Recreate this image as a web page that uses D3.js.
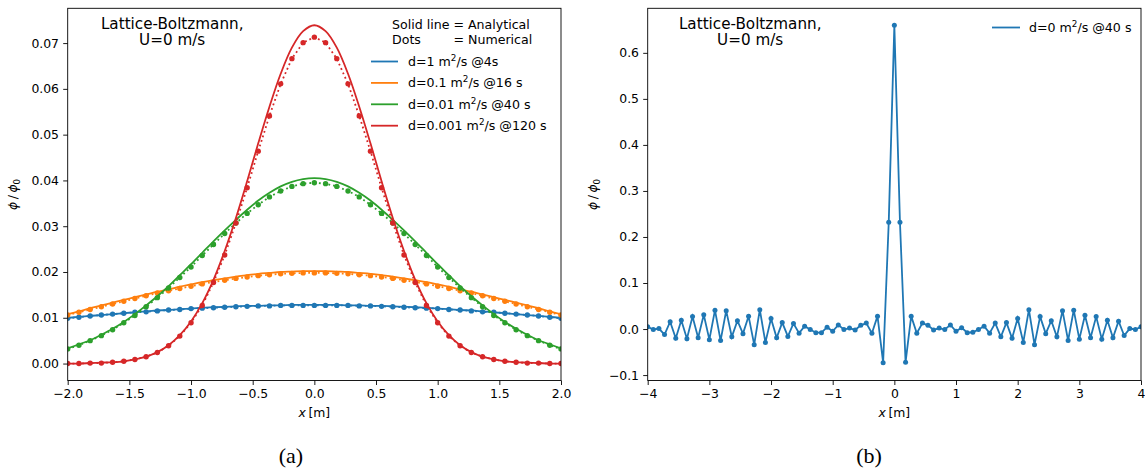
<!DOCTYPE html>
<html><head><meta charset="utf-8">
<script src="https://cdn.jsdelivr.net/npm/d3@7"></script>
<style>
body{margin:0;background:#fff}
svg{display:block}
text{font-family:"DejaVu Sans",sans-serif;fill:#000}
</style>
</head><body>
<svg id="c" width="1145" height="470"></svg>
<script>
// ---------- data: panel (a) ----------
const xLeft = [-2.000,-1.909,-1.818,-1.727,-1.636,-1.545,-1.455,-1.364,-1.273,-1.182,-1.091,-1.000,-0.909,-0.818,-0.727,-0.636,-0.545,-0.455,-0.364,-0.273,-0.182,-0.091,0,
  0.091,0.182,0.273,0.364,0.455,0.545,0.636,0.727,0.818,0.909,1.000,1.091,1.182,1.273,1.364,1.455,1.545,1.636,1.727,1.818,1.909,2.000];
const blueLine = [0.0100,0.0102,0.0104,0.0106,0.0108,0.0110,0.0112,0.0114,0.0116,0.0117,0.0119,0.0120,0.0122,0.0123,0.0124,0.0125,0.0126,0.0126,0.0127,0.0127,0.0128,0.0128,
  0.0128,
  0.0128,0.0128,0.0127,0.0127,0.0126,0.0126,0.0125,0.0124,0.0123,0.0122,0.0120,0.0119,0.0117,0.0116,0.0114,0.0112,0.0110,0.0108,0.0106,0.0104,0.0102,0.0100];
const blueDots = [0.0099,0.0101,0.0104,0.0106,0.0108,0.0110,0.0112,0.0113,0.0115,0.0117,0.0118,0.0120,0.0121,0.0122,0.0123,0.0124,0.0125,0.0126,0.0126,0.0127,0.0127,0.0127,
  0.0127,
  0.0127,0.0127,0.0127,0.0126,0.0126,0.0125,0.0124,0.0123,0.0122,0.0121,0.0120,0.0118,0.0117,0.0115,0.0113,0.0112,0.0110,0.0108,0.0106,0.0104,0.0101,0.0099];
const orangeLine = [0.0108,0.0114,0.0121,0.0127,0.0133,0.0139,0.0145,0.0151,0.0157,0.0162,0.0168,0.0173,0.0178,0.0182,0.0186,0.0190,0.0193,0.0196,0.0198,0.0200,0.0201,0.0202,
  0.0202,
  0.0202,0.0201,0.0200,0.0198,0.0196,0.0193,0.0190,0.0186,0.0182,0.0178,0.0173,0.0168,0.0162,0.0157,0.0151,0.0145,0.0139,0.0133,0.0127,0.0121,0.0114,0.0108];
const orangeDots = [0.0106,0.0112,0.0118,0.0124,0.0130,0.0136,0.0142,0.0148,0.0154,0.0159,0.0164,0.0169,0.0174,0.0178,0.0182,0.0186,0.0189,0.0192,0.0194,0.0196,0.0197,0.0198,
  0.0198,
  0.0198,0.0197,0.0196,0.0194,0.0192,0.0189,0.0186,0.0182,0.0178,0.0174,0.0169,0.0164,0.0159,0.0154,0.0148,0.0142,0.0136,0.0130,0.0124,0.0118,0.0112,0.0106];
const greenLine = [0.0033,0.0042,0.0051,0.0063,0.0076,0.0091,0.0108,0.0127,0.0147,0.0169,0.0193,0.0217,0.0242,0.0267,0.0291,0.0314,0.0336,0.0356,0.0373,0.0387,0.0397,0.0403,
  0.0405,
  0.0403,0.0397,0.0387,0.0373,0.0356,0.0336,0.0314,0.0291,0.0267,0.0242,0.0217,0.0193,0.0169,0.0147,0.0127,0.0108,0.0091,0.0076,0.0063,0.0051,0.0042,0.0033];
const greenDots = [0.0032,0.0040,0.0050,0.0061,0.0074,0.0089,0.0105,0.0124,0.0144,0.0165,0.0188,0.0211,0.0236,0.0260,0.0284,0.0307,0.0328,0.0347,0.0364,0.0377,0.0387,0.0393,
  0.0395,
  0.0393,0.0387,0.0377,0.0364,0.0347,0.0328,0.0307,0.0284,0.0260,0.0236,0.0211,0.0188,0.0165,0.0144,0.0124,0.0105,0.0089,0.0074,0.0061,0.0050,0.0040,0.0032];
const redLine = [0.0000,0.0000,0.0001,0.0002,0.0003,0.0005,0.0009,0.0015,0.0025,0.0040,0.0062,0.0092,0.0132,0.0183,0.0246,0.0318,0.0398,0.0481,0.0561,0.0633,0.0690,0.0726,
  0.0739,
  0.0726,0.0690,0.0633,0.0561,0.0481,0.0398,0.0318,0.0246,0.0183,0.0132,0.0092,0.0062,0.0040,0.0025,0.0015,0.0009,0.0005,0.0003,0.0002,0.0001,0.0000,0.0000];
const redDots = [0.0000,0.0000,0.0001,0.0001,0.0003,0.0005,0.0009,0.0015,0.0024,0.0039,0.0060,0.0089,0.0127,0.0177,0.0237,0.0307,0.0384,0.0464,0.0541,0.0611,0.0666,0.0701,
  0.0713,
  0.0701,0.0666,0.0611,0.0541,0.0464,0.0384,0.0307,0.0237,0.0177,0.0127,0.0089,0.0060,0.0039,0.0024,0.0015,0.0009,0.0005,0.0003,0.0001,0.0001,0.0000,0.0000];
const leftNames = ["d=1 m", "d=0.1 m", "d=0.01 m", "d=0.001 m"];
const leftTails = ["/s @4s", "/s @16 s", "/s @40 s", "/s @120 s"];
const leftColors = ["#1f77b4", "#ff7f0e", "#2ca02c", "#d62728"];
const leftXTicks = [-2.0,-1.5,-1.0,-0.5,0.0,0.5,1.0,1.5,2.0];
const leftYTicks = [0.00,0.01,0.02,0.03,0.04,0.05,0.06,0.07];

// ---------- data: panel (b) ----------
const xRight = [-4.000,-3.909,-3.818,-3.727,-3.636,-3.545,-3.455,-3.364,-3.273,-3.182,-3.091,-3.000,-2.909,-2.818,-2.727,-2.636,-2.545,-2.455,-2.364,-2.273,-2.182,-2.091,
  -2.000,-1.909,-1.818,-1.727,-1.636,-1.545,-1.455,-1.364,-1.273,-1.182,-1.091,-1.000,-0.909,-0.818,-0.727,-0.636,-0.545,-0.455,-0.364,-0.273,-0.182,-0.091,
  0,
  0.091,0.182,0.273,0.364,0.455,0.545,0.636,0.727,0.818,0.909,1.000,1.091,1.182,1.273,1.364,1.455,1.545,1.636,1.727,1.818,1.909,2.000,
  2.091,2.182,2.273,2.364,2.455,2.545,2.636,2.727,2.818,2.909,3.000,3.091,3.182,3.273,3.364,3.455,3.545,3.636,3.727,3.818,3.909,4.000];
const rightVals = [0.005,-0.001,0.001,-0.012,0.016,-0.020,0.019,-0.021,0.027,-0.019,0.031,-0.023,0.041,-0.025,0.040,-0.017,0.018,-0.010,0.028,-0.034,0.042,-0.029,
  0.023,-0.019,0.014,-0.016,0.012,-0.009,0.006,-0.001,-0.008,-0.008,0.004,-0.005,0.009,-0.001,0.002,-0.002,0.008,0.013,-0.009,0.028,-0.073,0.232,
  0.660,
  0.232,-0.072,0.028,-0.009,0.013,0.008,-0.002,0.002,-0.001,0.009,-0.005,0.003,-0.008,-0.007,-0.001,0.006,-0.009,0.013,-0.017,0.014,-0.020,0.023,
  -0.029,0.042,-0.034,0.027,-0.010,0.018,-0.017,0.040,-0.025,0.041,-0.022,0.030,-0.019,0.027,-0.022,0.019,-0.019,0.017,-0.014,0.001,-0.001,0.005];
const rightXTicks = [-4,-3,-2,-1,0,1,2,3,4];
const rightYTicks = [-0.1,0.0,0.1,0.2,0.3,0.4,0.5,0.6];

// ---------- drawing ----------
const svg = d3.select("#c");
const FS = 12.4;
const SERIF = '"Liberation Serif", "Times New Roman", serif';

function panel(cfg){
  const g = svg.append("g");
  const x = d3.scaleLinear().domain(cfg.xDomain).range([cfg.left, cfg.right]);
  const y = d3.scaleLinear().domain(cfg.yDomain).range([cfg.bottom, cfg.top]);
  svg.append("clipPath").attr("id", "clip" + cfg.name).append("rect")
    .attr("x", cfg.left).attr("y", cfg.top)
    .attr("width", cfg.right - cfg.left).attr("height", cfg.bottom - cfg.top);
  const plot = g.append("g").attr("clip-path", `url(#clip${cfg.name})`);

  const xa = d3.axisBottom(x).tickValues(cfg.xTicks).tickFormat(cfg.xFmt).tickSize(4.5).tickPadding(4.2).tickSizeOuter(0);
  const ya = d3.axisLeft(y).tickValues(cfg.yTicks).tickFormat(cfg.yFmt).tickSize(4.5).tickPadding(4.2).tickSizeOuter(0);
  const gx = g.append("g").attr("transform", `translate(0,${cfg.bottom})`).call(xa);
  const gy = g.append("g").attr("transform", `translate(${cfg.left},0)`).call(ya);
  [gx, gy].forEach(a => {
    a.attr("font-size", FS);
    a.select(".domain").remove();
    a.selectAll("line").attr("stroke", "#000").attr("stroke-width", 0.9);
    a.selectAll("text").attr("fill", "#000");
  });
  g.append("rect").attr("x", cfg.left).attr("y", cfg.top)
    .attr("width", cfg.right - cfg.left).attr("height", cfg.bottom - cfg.top)
    .attr("fill", "none").attr("stroke", "#000").attr("stroke-width", 0.9);

  // x label
  const xl = g.append("text").attr("x", (cfg.left + cfg.right) / 2).attr("y", cfg.bottom + 36)
    .attr("text-anchor", "middle").attr("font-size", FS);
  xl.append("tspan").attr("font-style", "italic").text("x");
  xl.append("tspan").text("\u2009[m]");
  // y label
  const yl = g.append("text").attr("transform", `translate(${cfg.ylabelX},${(cfg.top + cfg.bottom) / 2}) rotate(-90)`)
    .attr("text-anchor", "middle").attr("font-size", FS);
  yl.append("tspan").attr("font-style", "italic").text("\u03d5");
  yl.append("tspan").text("\u2009/\u2009");
  yl.append("tspan").attr("font-style", "italic").text("\u03d5");
  yl.append("tspan").attr("font-size", FS * 0.7).attr("dy", 3).text("0");

  // title text
  const tx = cfg.left + cfg.titleDx;
  g.append("text").attr("x", tx).attr("y", 29).attr("text-anchor", "middle").attr("font-size", 15.2).text("Lattice-Boltzmann,");
  g.append("text").attr("x", tx).attr("y", 45).attr("text-anchor", "middle").attr("font-size", 15.2).text("U=0 m/s");

  // panel caption
  g.append("text").attr("x", cfg.captionX).attr("y", 463).attr("text-anchor", "middle")
    .style("font-family", SERIF).attr("font-size", 22).text(cfg.caption);
  return {g, x, y, plot};
}

// ----- panel (a)
const A = panel({name: "a", left: 67.7, right: 561, top: 8.3, bottom: 380.5,
  xDomain: [-2, 2], yDomain: [-0.0037, 0.0776],
  xTicks: leftXTicks, yTicks: leftYTicks, xFmt: d3.format(".1f"), yFmt: d3.format(".2f"),
  ylabelX: 17, titleDx: 104.5, caption: "(a)", captionX: 291});

const leftSeries = [
  {line: blueLine, dots: blueDots},
  {line: orangeLine, dots: orangeDots},
  {line: greenLine, dots: greenDots},
  {line: redLine, dots: redDots}
];
const smooth = d3.line().x((d, i) => A.x(xLeft[i])).y(d => A.y(d)).curve(d3.curveCatmullRom.alpha(0.5));
const straight = d3.line().x((d, i) => A.x(xLeft[i])).y(d => A.y(d));
leftSeries.forEach((s, si) => {
  const c = leftColors[si];
  A.plot.append("path").attr("d", smooth(s.line)).attr("fill", "none").attr("stroke", c).attr("stroke-width", 1.8);
  A.plot.append("path").attr("d", straight(s.dots)).attr("fill", "none").attr("stroke", c)
    .attr("stroke-width", 1.8).attr("stroke-dasharray", "1.8,3").attr("stroke-linecap", "butt");
  A.plot.append("g").selectAll("circle").data(s.dots).join("circle")
    .attr("cx", (d, i) => A.x(xLeft[i])).attr("cy", d => A.y(d)).attr("r", 2.7).attr("fill", c);
});

// legend (a)
const LS = 12.6;
const lgX = 392;
const t1a = A.g.append("text").attr("x", lgX).attr("y", 29).attr("font-size", LS).text("Solid line\u00a0");
const off = t1a.node().getComputedTextLength();
A.g.append("text").attr("x", lgX + off).attr("y", 29).attr("font-size", LS).text("= Analytical");
A.g.append("text").attr("x", lgX).attr("y", 44).attr("font-size", LS).text("Dots");
A.g.append("text").attr("x", lgX + off).attr("y", 44).attr("font-size", LS).text("= Numerical");
leftNames.forEach((nm, i) => {
  const yy = 61.5 + i * 21.4;
  A.g.append("line").attr("x1", 371).attr("x2", 398).attr("y1", yy).attr("y2", yy)
    .attr("stroke", leftColors[i]).attr("stroke-width", 1.8);
  const t = A.g.append("text").attr("x", 408).attr("y", yy + 4.5).attr("font-size", LS);
  t.append("tspan").text(nm);
  t.append("tspan").attr("dy", -5).attr("font-size", LS * 0.7).text("2");
  t.append("tspan").attr("dy", 5).text(leftTails[i]);
});

// ----- panel (b)
const B = panel({name: "b", left: 647.7, right: 1141, top: 8.3, bottom: 380.5,
  xDomain: [-4, 4], yDomain: [-0.1118, 0.6968],
  xTicks: rightXTicks, yTicks: rightYTicks, xFmt: d3.format("d"), yFmt: d3.format(".1f"),
  ylabelX: 597, titleDx: 102.5, caption: "(b)", captionX: 869});

const bLine = d3.line().x((d, i) => B.x(xRight[i])).y(d => B.y(d));
B.plot.append("path").attr("d", bLine(rightVals)).attr("fill", "none").attr("stroke", "#1f77b4").attr("stroke-width", 1.8);
B.plot.append("g").selectAll("circle").data(rightVals).join("circle")
  .attr("cx", (d, i) => B.x(xRight[i])).attr("cy", d => B.y(d)).attr("r", 2.5).attr("fill", "#1f77b4");

B.g.append("line").attr("x1", 992).attr("x2", 1020).attr("y1", 27.5).attr("y2", 27.5)
  .attr("stroke", "#1f77b4").attr("stroke-width", 1.8);
const tb = B.g.append("text").attr("x", 1029).attr("y", 32).attr("font-size", LS);
tb.append("tspan").text("d=0 m");
tb.append("tspan").attr("dy", -5).attr("font-size", LS * 0.7).text("2");
tb.append("tspan").attr("dy", 5).text("/s @40 s");
</script>
</body></html>
